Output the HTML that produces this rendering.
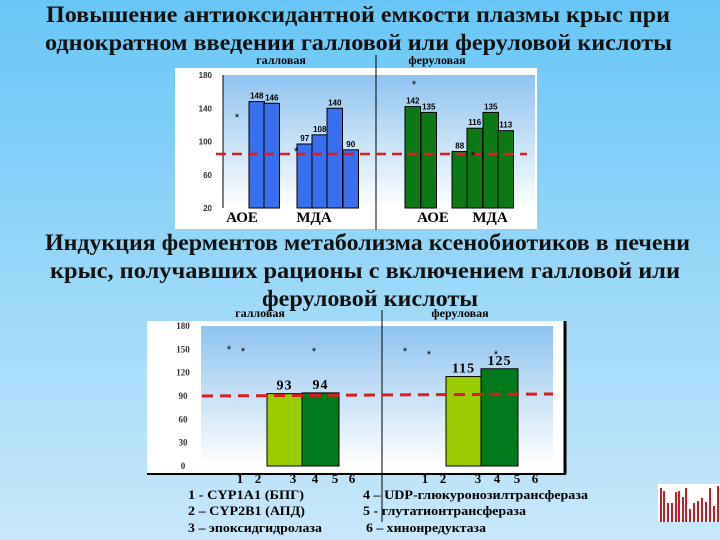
<!DOCTYPE html>
<html><head><meta charset="utf-8">
<style>
html,body{margin:0;padding:0}
body{width:720px;height:540px;overflow:hidden;background:linear-gradient(#68c6f6,#c8e8fb);font-family:"Liberation Serif","Noto Serif CJK SC",serif}
svg{position:absolute;left:0;top:0}
</style></head><body>
<svg id="s" width="720" height="540" viewBox="0 0 720 540" xmlns="http://www.w3.org/2000/svg">
<defs>
<linearGradient id="pg" x1="0" y1="0" x2="0" y2="1"><stop offset="0" stop-color="#8ec4f0"/><stop offset="1" stop-color="#ffffff"/></linearGradient>
</defs>
<g font-family="Liberation Serif, serif" font-weight="bold" fill="#111" lengthAdjust="spacingAndGlyphs">
<text x="46" y="22" font-size="23" textLength="624" lengthAdjust="spacingAndGlyphs">Повышение антиоксидантной емкости плазмы крыс при</text>
<text x="45" y="50" font-size="23" textLength="627" lengthAdjust="spacingAndGlyphs">однократном введении галловой или феруловой кислоты</text>
<text x="45" y="250" font-size="23" textLength="645" lengthAdjust="spacingAndGlyphs">Индукция ферментов метаболизма ксенобиотиков в печени</text>
<text x="50" y="278" font-size="23" textLength="630" lengthAdjust="spacingAndGlyphs">крыс, получавших рационы с включением галловой или</text>
<text x="262" y="306" font-size="23" textLength="216" lengthAdjust="spacingAndGlyphs">феруловой кислоты</text>
</g>
<!-- top chart -->
<g id="top">
<rect x="175" y="68" width="362" height="161" fill="#fff"/>
<rect x="223" y="75" width="312" height="133" fill="url(#pg)"/>
<line x1="223" y1="75" x2="223" y2="208" stroke="#000" stroke-width="1"/>
<line x1="376" y1="55" x2="376" y2="230" stroke="#000" stroke-width="1"/>
<text x="281" y="64" font-size="12" font-weight="bold" text-anchor="middle">галловая</text>
<text x="437" y="64" font-size="12" font-weight="bold" text-anchor="middle">феруловая</text>
<g font-size="15" font-weight="bold" text-anchor="middle">
<text x="242" y="222">АОЕ</text>
<text x="314" y="222">МДА</text>
<text x="433" y="222">АОЕ</text>
<text x="490" y="222">МДА</text>
</g>
</g>
<!-- bottom chart -->
<g id="bot">
<rect x="147" y="321" width="418" height="153" fill="#fff"/>
<line x1="565" y1="321" x2="565" y2="474" stroke="#000" stroke-width="3"/>
<line x1="147" y1="474" x2="566" y2="474" stroke="#000" stroke-width="2"/>
<rect x="201" y="326" width="352" height="140" fill="url(#pg)"/>
<line x1="382" y1="310" x2="382" y2="522" stroke="#000" stroke-width="1"/>
<text x="260" y="317" font-size="12" font-weight="bold" text-anchor="middle">галловая</text>
<text x="460" y="317" font-size="12" font-weight="bold" text-anchor="middle">феруловая</text>
<g font-size="13" font-weight="bold">
<text x="188" y="499" textLength="116" lengthAdjust="spacingAndGlyphs">1 -  CYP1A1 (БПГ)</text>
<text x="188" y="515" textLength="117" lengthAdjust="spacingAndGlyphs">2 – CYP2B1 (АПД)</text>
<text x="188" y="532" textLength="134" lengthAdjust="spacingAndGlyphs">3 – эпоксидгидролаза</text>
<text x="363" y="499" textLength="225" lengthAdjust="spacingAndGlyphs">4 – UDP-глюкуронозилтрансфераза</text>
<text x="363" y="515" textLength="163" lengthAdjust="spacingAndGlyphs">5 - глутатионтрансфераза</text>
<text x="366" y="532" textLength="120" lengthAdjust="spacingAndGlyphs">6 – хинонредуктаза</text>
</g>
</g>
<!-- thumbnail -->
<g>
<rect x="658" y="484" width="62" height="38" fill="#fff"/>
<g stroke="#c0202a" stroke-width="2">
<line x1="661" y1="522" x2="661" y2="488"/><line x1="664" y1="522" x2="664" y2="491"/><line x1="668" y1="522" x2="668" y2="503"/><line x1="672" y1="522" x2="672" y2="503"/><line x1="676" y1="522" x2="676" y2="492"/><line x1="679" y1="522" x2="679" y2="491"/><line x1="683" y1="522" x2="683" y2="497"/><line x1="686" y1="522" x2="686" y2="488"/><line x1="690" y1="522" x2="690" y2="509"/><line x1="694" y1="522" x2="694" y2="503"/><line x1="698" y1="522" x2="698" y2="501"/><line x1="702" y1="522" x2="702" y2="498"/><line x1="706" y1="522" x2="706" y2="502"/><line x1="710" y1="522" x2="710" y2="488"/><line x1="714" y1="522" x2="714" y2="506"/><line x1="718" y1="522" x2="718" y2="486"/>
</g>
</g>
</svg>
<script>
const topTicks=[20,60,100,140,180];
const topGallicValues=[148,146,97,108,140,90];
const topFerulicValues=[142,135,88,116,135,113];
const topRef=85;
const botTicks=[0,30,60,90,120,150,180];
const botCategories=['1','2','3','4','5','6'];
const botGallicValues=[0,0,93,94,0,0];
const botFerulicValues=[0,0,115,125,0,0];
const botRef=90;

const NS='http://www.w3.org/2000/svg';
function mk(tag,attrs,parent,txt){const e=document.createElementNS(NS,tag);for(const k in attrs)e.setAttribute(k,attrs[k]);if(txt!==undefined)e.textContent=txt;parent.appendChild(e);return e;}
const topG=document.getElementById('top'),botG=document.getElementById('bot');
const yTop=v=>208-(v-20)*133/160;
topTicks.forEach(t=>{const e=mk('text',{x:212,y:yTop(t)+3,'font-size':8,'font-family':'Liberation Sans, sans-serif','font-weight':'bold','text-anchor':'end',fill:'#333'},topG,String(t));

});
const topGX=[249,264,297,312,327,343],topFX=[405,421,452,467,483,498],tw=15.5;
function topBars(vals,xs,fill,name){vals.forEach((v,i)=>{const y=yTop(v);
const r=mk('rect',{x:xs[i],y:y,width:tw,height:208-y,fill:fill,stroke:'#000','stroke-width':1},topG);


const t=mk('text',{x:xs[i]+tw/2,y:y-3,'font-size':8,'font-family':'Liberation Sans, sans-serif','font-weight':'bold','text-anchor':'middle'},topG,String(v));

});}
topBars(topGallicValues,topGX,'#3a6ff0','top-gallic');
topBars(topFerulicValues,topFX,'#0b7a14','top-ferulic');
const tl=mk('line',{x1:216,x2:527,y1:yTop(topRef),y2:yTop(topRef),stroke:'#d81e1e','stroke-width':2.5,'stroke-dasharray':'10,6'},topG);


[[237,121],[296,155],[414,88],[473,159]].forEach(p=>{const s=mk('text',{x:p[0],y:p[1],'font-size':11,'font-family':'Liberation Sans, sans-serif','text-anchor':'middle'},topG,'*');

});
const yBot=v=>466-v*140/180;
botTicks.forEach(t=>{const e=mk('text',{x:183,y:yBot(t)+3,'font-size':9,'font-weight':'bold','text-anchor':'middle',fill:'#333'},botG,String(t));

});
const bGX=[0,0,267,302,0,0],bFX=[0,0,446,481,0,0],bw=[0,0,35,37,0,0],bc=['','','#9acd00','#007a1a','',''];
function botBars(vals,xs,name){vals.forEach((v,i)=>{if(v<=0)return;const y=yBot(v);
const r=mk('rect',{x:xs[i],y:y,width:bw[i],height:466-y,fill:bc[i],stroke:'#000','stroke-width':1},botG);


const t=mk('text',{x:xs[i]+bw[i]/2,y:y-4,'font-size':14,'font-weight':'bold','text-anchor':'middle','letter-spacing':1},botG,String(v));

});}
botBars(botGallicValues,bGX,'bottom-gallic');
botBars(botFerulicValues,bFX,'bottom-ferulic');
const catGX=[240,258,293,315,335,352],catFX=[425,443,478,497,517,535];
botCategories.forEach((c,i)=>{[catGX[i],catFX[i]].forEach(x=>{const t=mk('text',{x:x,y:483,'font-size':13,'font-weight':'bold','text-anchor':'middle'},botG,c);

});});
const bl=mk('line',{x1:202,x2:553,y1:yBot(botRef),y2:yBot(botRef)-2,stroke:'#d81e1e','stroke-width':3,'stroke-dasharray':'11,7'},botG);


[[229,353],[243,355],[314,355],[405,355],[429,358],[496,358]].forEach(p=>{const s=mk('text',{x:p[0],y:p[1],'font-size':11,'font-family':'Liberation Sans, sans-serif','text-anchor':'middle'},botG,'*');

});
</script>
</body></html>
